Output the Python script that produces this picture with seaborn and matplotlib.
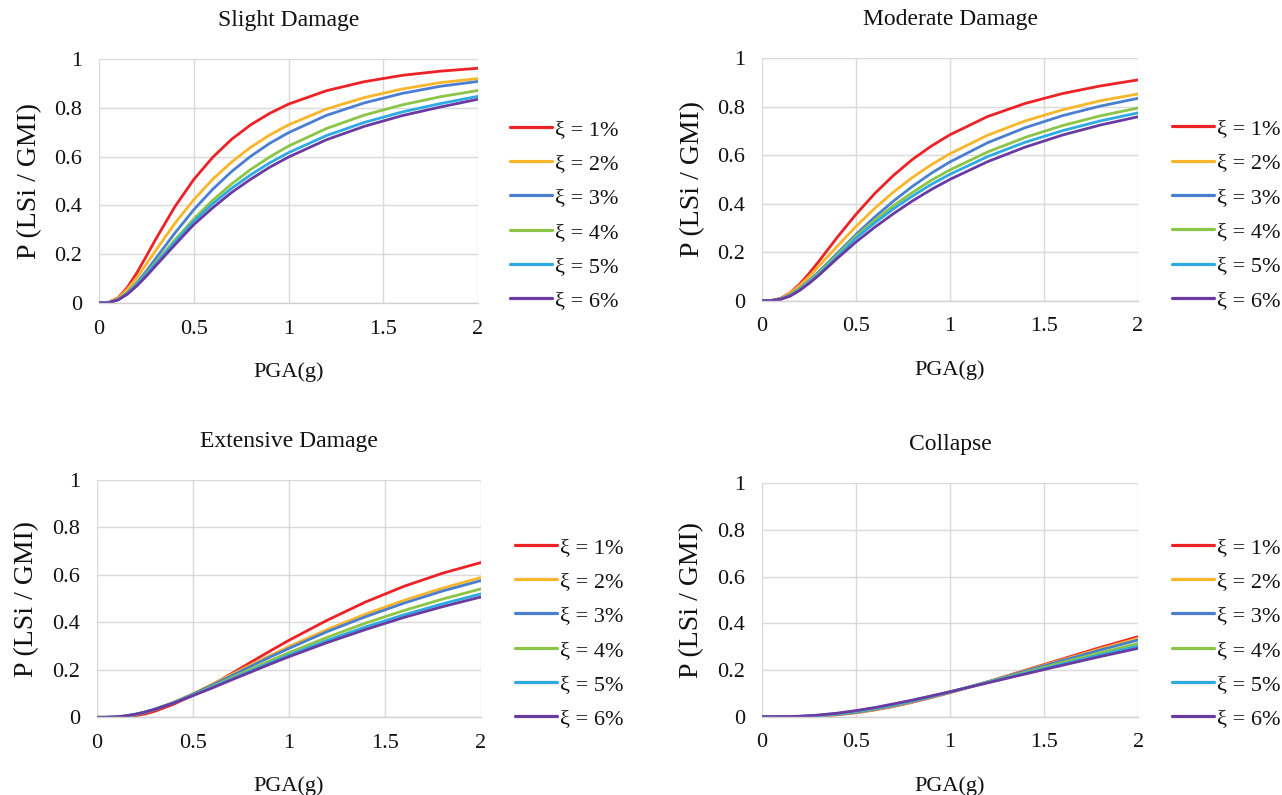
import matplotlib
matplotlib.use("Agg")
import matplotlib.pyplot as plt
import seaborn as sns
import pandas as pd

# ---------------- data ----------------
PGA = [0, 0.05, 0.1, 0.15, 0.2, 0.25, 0.3, 0.4, 0.5, 0.6, 0.7, 0.8, 0.9,
       1.0, 1.2, 1.4, 1.6, 1.8, 2.0]

LABELS = ["ξ = 1%", "ξ = 2%", "ξ = 3%", "ξ = 4%", "ξ = 5%", "ξ = 6%"]
COLORS = ["#ec2226", "#f9b62b", "#4a7fcf", "#8cc545", "#2eaae3", "#6a3aa2"]
TITLES = ["Slight Damage", "Moderate Damage", "Extensive Damage", "Collapse"]

slight = [
    [0, 0.002, 0.021, 0.064, 0.124, 0.192, 0.262, 0.394, 0.506, 0.597, 0.671, 0.730, 0.777, 0.815, 0.870, 0.907, 0.933, 0.950, 0.962],
    [0, 0.002, 0.019, 0.056, 0.104, 0.159, 0.216, 0.326, 0.423, 0.507, 0.578, 0.638, 0.688, 0.730, 0.795, 0.842, 0.877, 0.903, 0.920],
    [0, 0.001, 0.014, 0.042, 0.083, 0.131, 0.183, 0.286, 0.382, 0.466, 0.539, 0.601, 0.654, 0.698, 0.769, 0.820, 0.859, 0.888, 0.908],
    [0, 0.0016, 0.014, 0.041, 0.078, 0.121, 0.167, 0.258, 0.344, 0.421, 0.488, 0.547, 0.598, 0.643, 0.715, 0.770, 0.812, 0.845, 0.871],
    [0, 0.0015, 0.013, 0.039, 0.075, 0.117, 0.161, 0.249, 0.335, 0.407, 0.470, 0.525, 0.574, 0.616, 0.686, 0.740, 0.783, 0.817, 0.847],
    [0, 0.0012, 0.012, 0.036, 0.070, 0.110, 0.153, 0.238, 0.321, 0.390, 0.453, 0.507, 0.556, 0.598, 0.669, 0.724, 0.768, 0.803, 0.835],
]

moderate = [
    [0, 0.0007, 0.010, 0.033, 0.068, 0.112, 0.160, 0.261, 0.356, 0.442, 0.517, 0.582, 0.637, 0.684, 0.759, 0.813, 0.854, 0.885, 0.910],
    [0, 0.0007, 0.009, 0.031, 0.062, 0.099, 0.140, 0.224, 0.306, 0.381, 0.448, 0.508, 0.560, 0.606, 0.682, 0.741, 0.787, 0.824, 0.852],
    [0, 0.0006, 0.0075, 0.024, 0.050, 0.082, 0.118, 0.195, 0.273, 0.345, 0.411, 0.471, 0.525, 0.572, 0.651, 0.713, 0.763, 0.802, 0.834],
    [0, 0.0005, 0.007, 0.022, 0.047, 0.078, 0.113, 0.188, 0.266, 0.331, 0.392, 0.446, 0.496, 0.539, 0.613, 0.673, 0.722, 0.762, 0.794],
    [0, 0.0005, 0.0065, 0.020, 0.044, 0.074, 0.107, 0.181, 0.258, 0.321, 0.379, 0.431, 0.479, 0.521, 0.594, 0.653, 0.701, 0.741, 0.774],
    [0, 0.0004, 0.006, 0.019, 0.042, 0.071, 0.103, 0.174, 0.242, 0.303, 0.359, 0.411, 0.458, 0.500, 0.573, 0.633, 0.683, 0.724, 0.758],
]

extensive = [
    [0, 0, 0.0004, 0.0023, 0.0068, 0.014, 0.025, 0.055, 0.093, 0.137, 0.183, 0.231, 0.278, 0.324, 0.409, 0.486, 0.552, 0.607, 0.652],
    [0, 0.0001, 0.0012, 0.0047, 0.011, 0.021, 0.033, 0.063, 0.099, 0.139, 0.179, 0.220, 0.259, 0.298, 0.370, 0.435, 0.493, 0.544, 0.589],
    [0, 0.0001, 0.0012, 0.0048, 0.011, 0.0205, 0.032, 0.062, 0.097, 0.135, 0.174, 0.214, 0.253, 0.290, 0.361, 0.424, 0.481, 0.532, 0.576],
    [0, 0.0001, 0.0015, 0.0054, 0.012, 0.021, 0.033, 0.061, 0.094, 0.129, 0.166, 0.202, 0.238, 0.272, 0.337, 0.397, 0.450, 0.498, 0.541],
    [0, 0.0002, 0.0018, 0.006, 0.0128, 0.022, 0.034, 0.061, 0.093, 0.126, 0.161, 0.195, 0.229, 0.262, 0.324, 0.381, 0.432, 0.478, 0.520],
    [0, 0.0002, 0.0018, 0.006, 0.0129, 0.022, 0.033, 0.060, 0.091, 0.123, 0.157, 0.190, 0.223, 0.255, 0.315, 0.370, 0.421, 0.466, 0.507],
]

collapse = [
    [0, 0, 0, 0.0001, 0.0006, 0.0014, 0.0029, 0.0082, 0.017, 0.029, 0.044, 0.062, 0.082, 0.103, 0.149, 0.199, 0.248, 0.297, 0.343],
    [0, 0, 0, 0.0002, 0.0007, 0.0017, 0.0033, 0.009, 0.018, 0.030, 0.0455, 0.063, 0.083, 0.104, 0.149, 0.197, 0.244, 0.291, 0.336],
    [0, 0, 0, 0.0003, 0.0008, 0.002, 0.0038, 0.010, 0.019, 0.032, 0.047, 0.065, 0.084, 0.105, 0.149, 0.195, 0.241, 0.286, 0.329],
    [0, 0, 0.0001, 0.0004, 0.0013, 0.0028, 0.005, 0.012, 0.022, 0.035, 0.050, 0.068, 0.086, 0.106, 0.148, 0.190, 0.233, 0.274, 0.314],
    [0, 0, 0.0001, 0.0006, 0.0016, 0.0033, 0.0059, 0.0134, 0.024, 0.037, 0.052, 0.069, 0.087, 0.106, 0.146, 0.186, 0.226, 0.265, 0.303],
    [0, 0, 0.0002, 0.0008, 0.0021, 0.0042, 0.007, 0.015, 0.026, 0.039, 0.055, 0.071, 0.089, 0.107, 0.145, 0.183, 0.221, 0.258, 0.293],
]

X_TICKS = [0, 0.5, 1, 1.5, 2]
X_TICKLABELS = ["0", "0.5", "1", "1.5", "2"]
Y_TICKS = [0, 0.2, 0.4, 0.6, 0.8, 1.0]
Y_TICKLABELS = ["0", "0.2", "0.4", "0.6", "0.8", "1"]

# ---------------- styling ----------------
sns.set_style("white")
plt.rcParams["font.family"] = ["Liberation Serif", "DejaVu Serif"]
TXT = "#111111"
plt.rcParams["text.color"] = TXT

fig = plt.figure(figsize=(12.82, 7.95), dpi=100)

# axes rectangles (figure fractions)
RECTS = [
    [0.0772, 0.6189, 0.2957, 0.3069],
    [0.5944, 0.6218, 0.2933, 0.3052],
    [0.0754, 0.0977, 0.2996, 0.2985],
    [0.5941, 0.0985, 0.2938, 0.2936],
]
LEG_ANCHORS = [(1.084, 0.36), (1.09, 0.355), (1.089, 0.355), (1.089, 0.358)]

panels = [slight, moderate, extensive, collapse]

for rect, title, series, anchor in zip(RECTS, TITLES, panels, LEG_ANCHORS):
    ax = fig.add_axes(rect)
    rows = []
    for lab, vals in zip(LABELS, series):
        for xv, yv in zip(PGA, vals):
            rows.append({"PGA": xv, "P": yv, "xi": lab})
    df = pd.DataFrame(rows)
    sns.lineplot(data=df, x="PGA", y="P", hue="xi", hue_order=LABELS,
                 palette=COLORS, linewidth=2.0, ax=ax, legend=True)

    ax.set_xlim(0, 2)
    ax.set_ylim(0, 1)
    ax.set_xticks(X_TICKS)
    ax.set_xticklabels(X_TICKLABELS)
    ax.set_yticks(Y_TICKS)
    ax.set_yticklabels(Y_TICKLABELS)
    ax.grid(True, color="#d9d9d9", linewidth=1.0)
    ax.set_axisbelow(True)
    for side in ["top", "right", "left"]:
        ax.spines[side].set_visible(False)
    ax.spines["bottom"].set_color("#d0d0d0")
    ax.spines["bottom"].set_linewidth(1.0)
    ax.tick_params(axis="both", length=0, labelsize=16, colors=TXT)
    ax.tick_params(axis="x", pad=12)
    ax.tick_params(axis="y", pad=12)

    ax.set_title(title, fontsize=17, pad=24, color=TXT)
    ax.set_xlabel("PGA(g)", fontsize=16, labelpad=17, color=TXT)
    ax.set_ylabel("P (LSi / GMI)", fontsize=20, labelpad=9, color=TXT)

    handles, labels = ax.get_legend_handles_labels()
    for h in handles:
        h.set_linewidth(2.3)
    ax.legend(handles, labels, loc="center left", bbox_to_anchor=anchor,
              frameon=False, fontsize=16, handlelength=1.9,
              handletextpad=0.15, labelspacing=0.62, borderaxespad=0,
              borderpad=0)

fig.savefig("out.png", dpi=100)
